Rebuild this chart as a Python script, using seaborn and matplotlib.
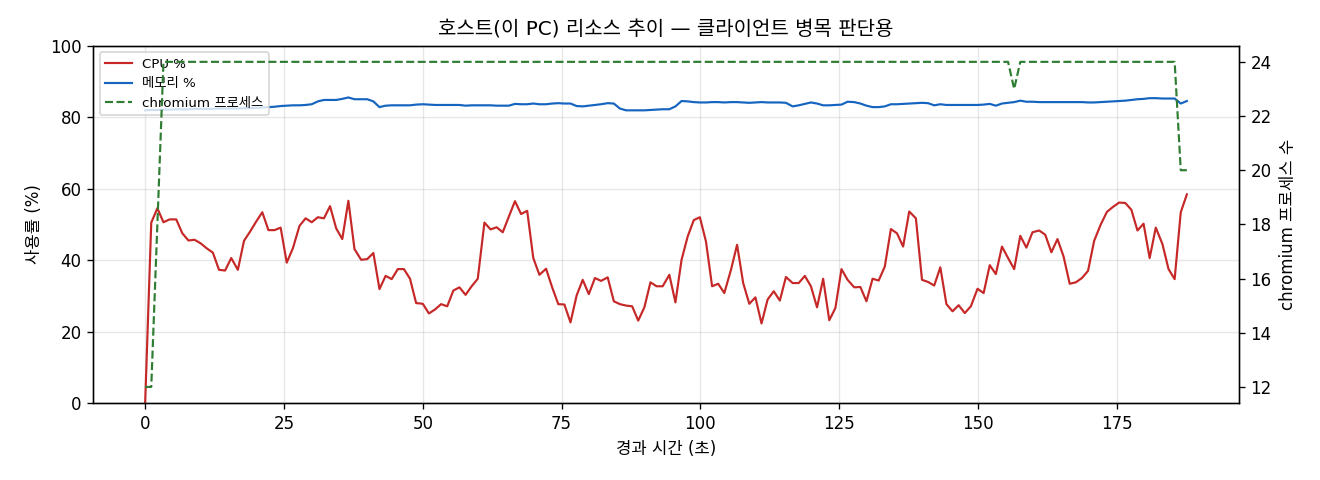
import numpy as np
import matplotlib
matplotlib.use("Agg")
import matplotlib.pyplot as plt
import seaborn as sns

elapsed = [
    0.0, 1.1, 2.2, 3.3, 4.4, 5.6, 6.7, 7.8, 8.9, 10.0,
    11.1, 12.2, 13.3, 14.4, 15.5, 16.7, 17.8, 18.9, 20.0, 21.1,
    22.2, 23.3, 24.4, 25.5, 26.6, 27.8, 28.9, 30.0, 31.1, 32.2,
    33.3, 34.4, 35.5, 36.6, 37.7, 38.9, 40.0, 41.1, 42.2, 43.3,
    44.4, 45.5, 46.6, 47.7, 48.8, 50.0, 51.1, 52.2, 53.3, 54.4,
    55.5, 56.6, 57.7, 58.8, 59.9, 61.1, 62.2, 63.3, 64.4, 65.5,
    66.6, 67.7, 68.8, 69.9, 71.0, 72.2, 73.3, 74.4, 75.5, 76.6,
    77.7, 78.8, 79.9, 81.0, 82.1, 83.3, 84.4, 85.5, 86.6, 87.7,
    88.8, 89.9, 91.0, 92.1, 93.2, 94.4, 95.5, 96.6, 97.7, 98.8,
    99.9, 101.0, 102.1, 103.2, 104.3, 105.5, 106.6, 107.7, 108.8, 109.9,
    111.0, 112.1, 113.2, 114.3, 115.4, 116.6, 117.7, 118.8, 119.9, 121.0,
    122.1, 123.2, 124.3, 125.4, 126.5, 127.7, 128.8, 129.9, 131.0, 132.1,
    133.2, 134.3, 135.4, 136.5, 137.6, 138.8, 139.9, 141.0, 142.1, 143.2,
    144.3, 145.4, 146.5, 147.6, 148.7, 149.9, 151.0, 152.1, 153.2, 154.3,
    155.4, 156.5, 157.6, 158.7, 159.8, 161.0, 162.1, 163.2, 164.3, 165.4,
    166.5, 167.6, 168.7, 169.8, 170.9, 172.1, 173.2, 174.3, 175.4, 176.5,
    177.6, 178.7, 179.8, 180.9, 182.0, 183.2, 184.3, 185.4, 186.5, 187.6,
]

cpu = [
    0.0, 50.5, 54.5, 50.6, 51.4, 51.4, 47.5, 45.5, 45.7, 44.7,
    43.3, 42.1, 37.3, 37.1, 40.6, 37.3, 45.4, 48.0, 50.8, 53.4,
    48.4, 48.4, 49.1, 39.3, 43.3, 49.6, 51.7, 50.6, 52.0, 51.7,
    55.1, 48.9, 45.9, 56.6, 43.1, 40.1, 40.3, 42.0, 31.9, 35.6,
    34.7, 37.5, 37.5, 34.8, 28.0, 27.8, 25.1, 26.2, 27.7, 27.1,
    31.5, 32.4, 30.3, 32.7, 34.8, 50.5, 48.6, 49.2, 47.8, 52.2,
    56.5, 52.9, 53.8, 40.6, 35.9, 37.6, 32.4, 27.7, 27.6, 22.6,
    30.1, 34.5, 30.5, 35.0, 34.2, 35.2, 28.5, 27.7, 27.3, 27.1,
    23.1, 26.8, 33.8, 32.7, 32.7, 35.9, 28.2, 40.1, 46.6, 51.2,
    52.0, 45.2, 32.7, 33.4, 30.8, 37.3, 44.3, 33.6, 27.8, 29.6,
    22.3, 29.0, 31.3, 28.7, 35.3, 33.6, 33.6, 35.6, 32.7, 26.8,
    34.8, 23.2, 26.6, 37.5, 34.5, 32.4, 32.5, 28.5, 34.8, 34.3,
    38.2, 48.7, 47.5, 43.8, 53.6, 51.7, 34.5, 33.9, 32.9, 38.0,
    27.7, 25.7, 27.4, 25.2, 27.1, 32.0, 30.8, 38.6, 36.1, 43.8,
    40.6, 37.5, 46.8, 43.5, 47.8, 48.3, 47.1, 42.2, 45.9, 41.0,
    33.4, 33.8, 35.0, 37.0, 45.4, 50.0, 53.5, 54.9, 56.1, 56.0,
    54.1, 48.3, 50.2, 40.6, 49.1, 44.5, 37.5, 34.7, 53.4, 58.4,
]

memory = [
    81.9, 82.0, 82.0, 82.1, 82.1, 82.2, 82.2, 82.2, 82.3, 82.3,
    82.3, 82.3, 82.4, 82.4, 82.4, 82.4, 82.5, 82.5, 82.6, 82.7,
    82.8, 82.9, 83.1, 83.2, 83.3, 83.3, 83.4, 83.6, 84.4, 84.8,
    84.8, 84.8, 85.1, 85.5, 85.0, 85.0, 85.0, 84.4, 82.8, 83.2,
    83.3, 83.3, 83.3, 83.3, 83.5, 83.6, 83.5, 83.4, 83.4, 83.4,
    83.4, 83.4, 83.2, 83.3, 83.3, 83.3, 83.3, 83.2, 83.2, 83.2,
    83.7, 83.6, 83.6, 83.8, 83.6, 83.6, 83.8, 83.9, 83.8, 83.8,
    83.1, 83.0, 83.2, 83.4, 83.6, 83.9, 83.8, 82.4, 81.9, 81.9,
    81.9, 81.9, 82.0, 82.1, 82.2, 82.2, 83.0, 84.5, 84.4, 84.2,
    84.1, 84.1, 84.2, 84.2, 84.1, 84.2, 84.2, 84.1, 84.0, 84.1,
    84.2, 84.1, 84.1, 84.1, 84.0, 83.0, 83.3, 83.7, 84.1, 83.8,
    83.3, 83.3, 83.4, 83.5, 84.3, 84.2, 83.8, 83.2, 82.8, 82.8,
    83.0, 83.6, 83.6, 83.7, 83.8, 83.9, 84.0, 83.9, 83.3, 83.6,
    83.4, 83.4, 83.4, 83.4, 83.4, 83.4, 83.5, 83.7, 83.2, 83.8,
    84.0, 84.2, 84.6, 84.3, 84.3, 84.2, 84.2, 84.2, 84.2, 84.2,
    84.2, 84.2, 84.2, 84.1, 84.1, 84.2, 84.3, 84.4, 84.5, 84.6,
    84.8, 85.0, 85.1, 85.3, 85.3, 85.2, 85.2, 85.2, 83.8, 84.5,
]

chromium = [12, 12, 18] + [24] * 138 + [23] + [24] * 26 + [20, 20]

plt.rcParams['font.family'] = ['DejaVu Sans', 'Noto Sans CJK KR']
plt.rcParams['axes.unicode_minus'] = False

fig, ax1 = plt.subplots(figsize=(11, 4), dpi=120)
fig.subplots_adjust(left=0.0705, right=0.9386, top=0.905, bottom=0.16)

sns.lineplot(x=elapsed, y=cpu, ax=ax1, color='#c62828', lw=1.3,
             label='CPU %', estimator=None, legend=False)
sns.lineplot(x=elapsed, y=memory, ax=ax1, color='#1565c0', lw=1.3,
             label='메모리 %', estimator=None, legend=False)
ax1.set_ylim(0, 100)
ax1.set_xlabel('경과 시간 (초)')
ax1.set_ylabel('사용률 (%)')
ax1.grid(alpha=0.3)

ax2 = ax1.twinx()
sns.lineplot(x=elapsed, y=chromium, ax=ax2, color='#2e7d32', lw=1.3,
             linestyle='--', label='chromium 프로세스', estimator=None,
             legend=False)
ax2.set_ylabel('chromium 프로세스 수')

lines = ax1.get_lines() + ax2.get_lines()
ax1.legend(lines, [l.get_label() for l in lines], loc='upper left', fontsize=8)

ax1.set_title('호스트(이 PC) 리소스 추이 — 클라이언트 병목 판단용', fontsize=12)

plt.savefig('out.png', dpi=120)
plt.close()
